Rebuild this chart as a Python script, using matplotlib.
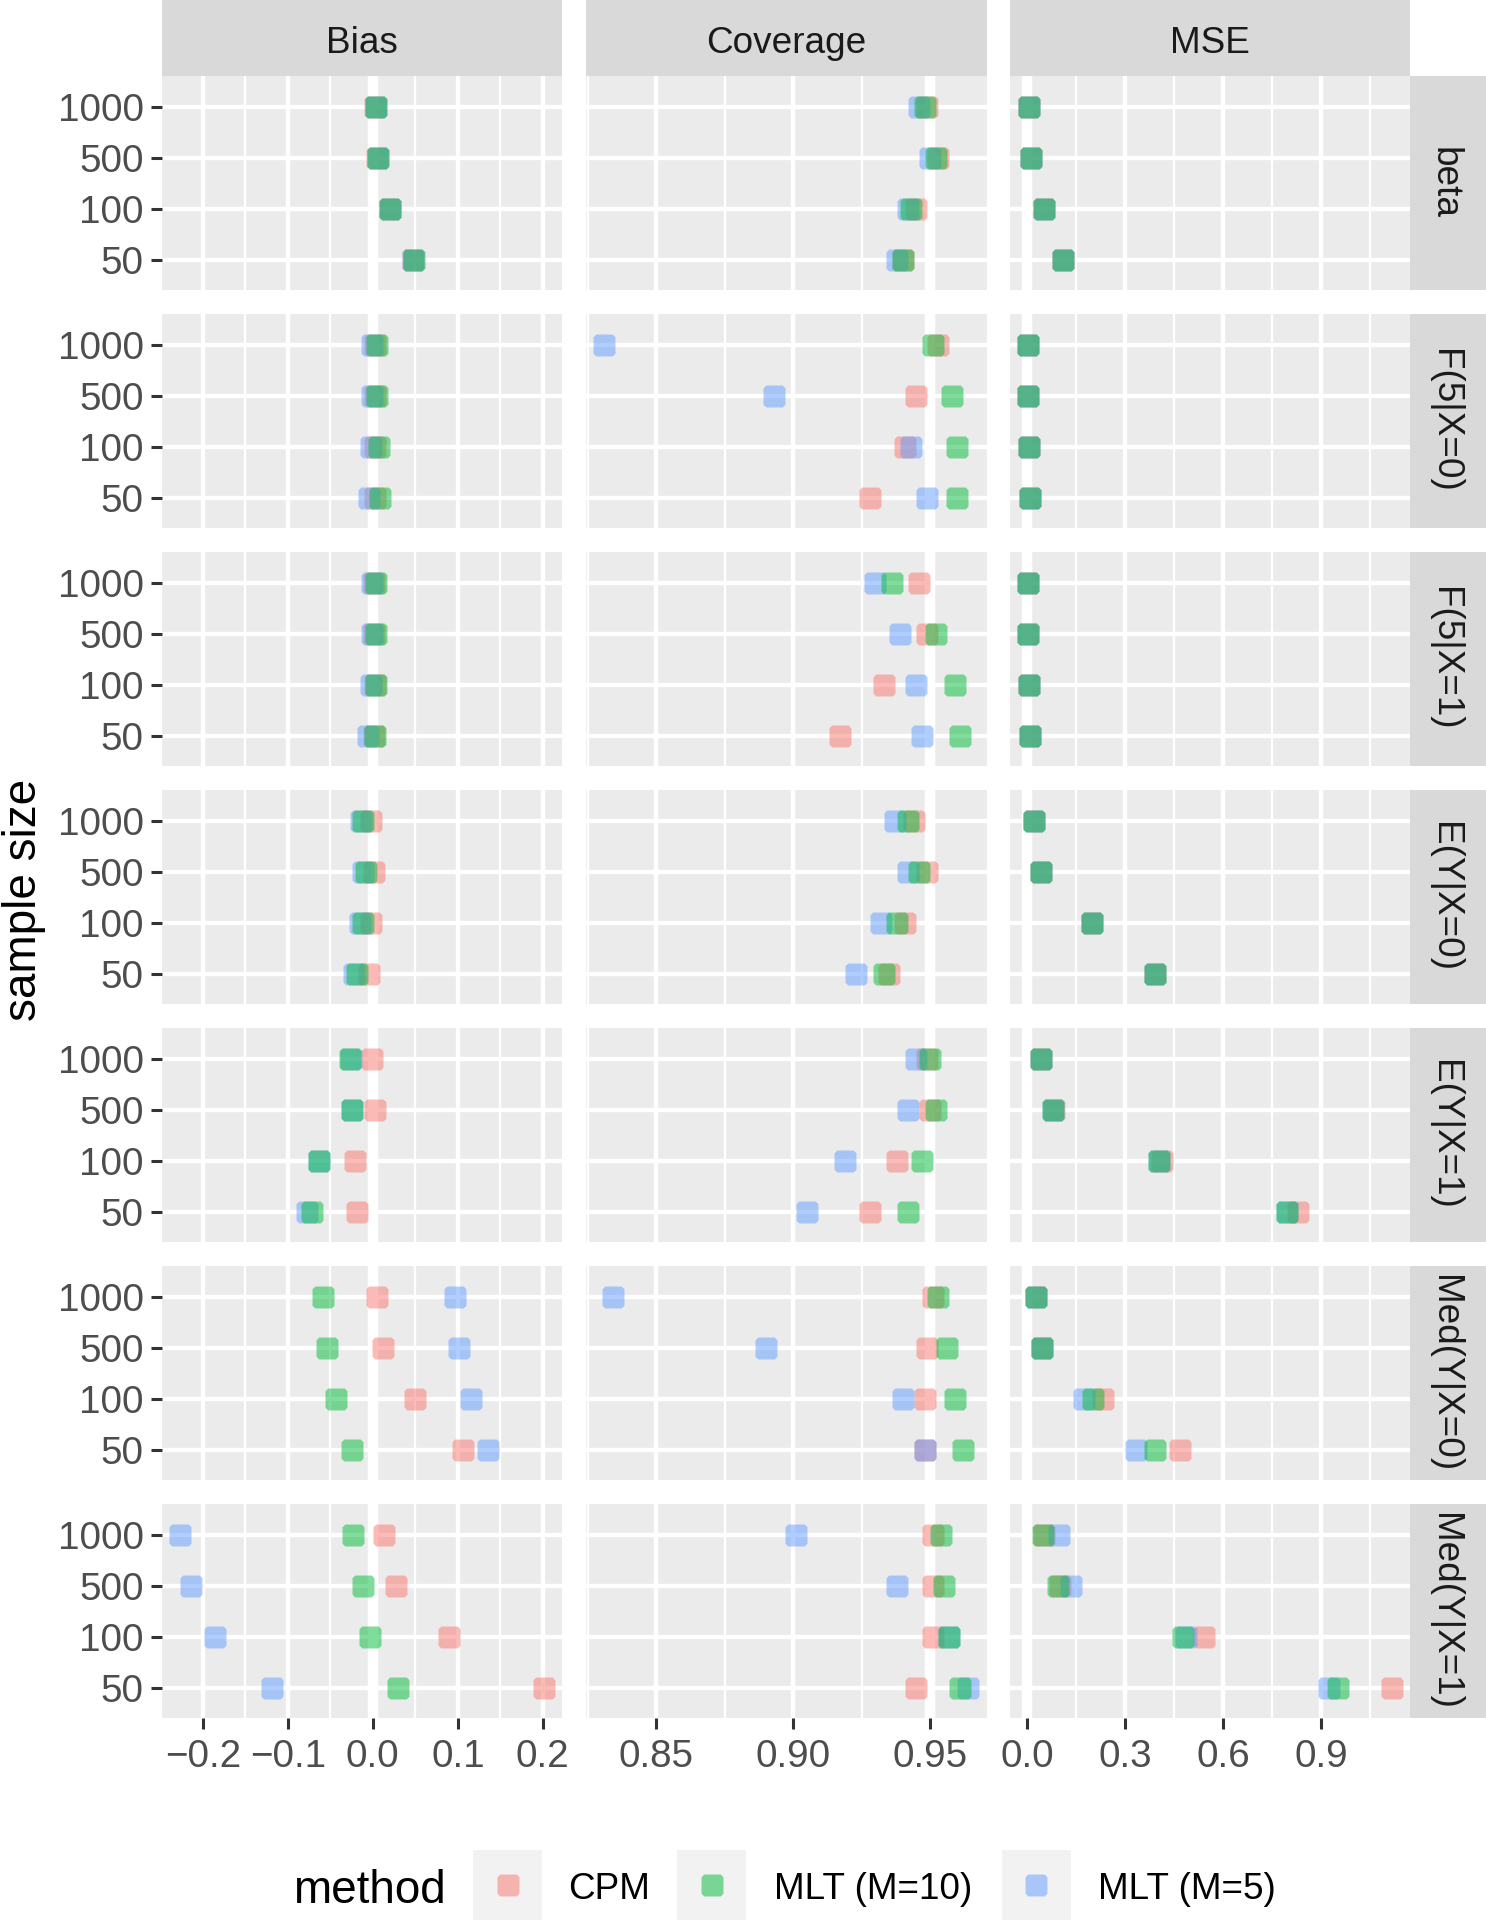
import numpy as np
import matplotlib
matplotlib.use("Agg")
import matplotlib.pyplot as plt
from matplotlib.path import Path

plt.rcParams['font.family'] = ['Liberation Sans', 'DejaVu Sans']

# facet labels
sample_sizes = ["1000", "500", "100", "50"]
estimands = ["beta", "F(5|X=0)", "F(5|X=1)", "E(Y|X=0)", "E(Y|X=1)", "Med(Y|X=0)", "Med(Y|X=1)"]
metrics = ["Bias", "Coverage", "MSE"]
methods = ["CPM", "MLT (M=10)", "MLT (M=5)"]
method_colors = ["#F8766D", "#00BA38", "#619CFF"]
reference_lines = [0.0, 0.95, 0.0]

# one row per estimand, values for n = 1000, 500, 100, 50
bias_cpm = [[0.003, 0.005, 0.020, 0.047],
            [0.002, 0.002, 0.003, 0.003],
            [0.001, 0.001, 0.002, 0.001],
            [-0.002, 0.001, -0.002, -0.004],
            [-0.001, 0.003, -0.021, -0.018],
            [0.005, 0.012, 0.050, 0.106],
            [0.013, 0.027, 0.090, 0.201]]
bias_mlt10 = [[0.004, 0.006, 0.020, 0.048],
              [0.005, 0.005, 0.007, 0.009],
              [0.004, 0.004, 0.004, 0.003],
              [-0.011, -0.008, -0.012, -0.019],
              [-0.027, -0.025, -0.063, -0.071],
              [-0.059, -0.054, -0.043, -0.024],
              [-0.023, -0.012, -0.003, 0.030]]
bias_mlt5 = [[0.004, 0.006, 0.020, 0.047],
             [-0.001, -0.001, -0.002, -0.004],
             [-0.001, -0.001, -0.002, -0.006],
             [-0.014, -0.011, -0.015, -0.022],
             [-0.026, -0.024, -0.063, -0.077],
             [0.097, 0.101, 0.116, 0.136],
             [-0.227, -0.214, -0.186, -0.119]]

cov_cpm = [[0.949, 0.953, 0.945, 0.940],
           [0.953, 0.945, 0.941, 0.928],
           [0.946, 0.949, 0.933, 0.917],
           [0.944, 0.949, 0.941, 0.935],
           [0.949, 0.950, 0.938, 0.928],
           [0.951, 0.949, 0.948, 0.948],
           [0.951, 0.951, 0.951, 0.945]]
cov_mlt10 = [[0.948, 0.952, 0.943, 0.940],
             [0.951, 0.958, 0.960, 0.960],
             [0.936, 0.952, 0.959, 0.961],
             [0.942, 0.946, 0.938, 0.933],
             [0.950, 0.952, 0.947, 0.942],
             [0.953, 0.956, 0.959, 0.962],
             [0.954, 0.955, 0.957, 0.961]]
cov_mlt5 = [[0.946, 0.950, 0.942, 0.938],
            [0.831, 0.893, 0.943, 0.949],
            [0.930, 0.939, 0.945, 0.947],
            [0.937, 0.942, 0.932, 0.923],
            [0.945, 0.942, 0.919, 0.905],
            [0.834, 0.890, 0.940, 0.948],
            [0.901, 0.938, 0.957, 0.964]]

mse_cpm = [[0.006, 0.010, 0.051, 0.110],
           [0.002, 0.003, 0.005, 0.009],
           [0.002, 0.002, 0.005, 0.007],
           [0.021, 0.040, 0.199, 0.392],
           [0.042, 0.080, 0.413, 0.829],
           [0.026, 0.045, 0.232, 0.467],
           [0.050, 0.100, 0.542, 1.116]]
mse_mlt10 = [[0.006, 0.010, 0.051, 0.110],
             [0.002, 0.003, 0.005, 0.009],
             [0.002, 0.002, 0.005, 0.007],
             [0.021, 0.040, 0.199, 0.392],
             [0.042, 0.079, 0.402, 0.796],
             [0.025, 0.045, 0.200, 0.392],
             [0.048, 0.094, 0.476, 0.951]]
mse_mlt5 = [[0.006, 0.010, 0.051, 0.110],
            [0.002, 0.003, 0.005, 0.009],
            [0.002, 0.002, 0.005, 0.007],
            [0.021, 0.040, 0.199, 0.392],
            [0.042, 0.079, 0.402, 0.796],
            [0.025, 0.045, 0.172, 0.333],
            [0.097, 0.133, 0.486, 0.922]]

# axis breaks per metric column
major_breaks = [[-0.2, -0.1, 0.0, 0.1, 0.2], [0.85, 0.90, 0.95], [0.0, 0.3, 0.6, 0.9]]
major_labels = [["\u22120.2", "\u22120.1", "0.0", "0.1", "0.2"], ["0.85", "0.90", "0.95"],
                ["0.0", "0.3", "0.6", "0.9"]]
minor_breaks = [[-0.15, -0.05, 0.05, 0.15], [0.825, 0.875, 0.925], [0.15, 0.45, 0.75, 1.05]]

W, H = 1486, 1920
PANEL_BG = "#EBEBEB"
STRIP_BG = "#D9D9D9"
KEY_BG = "#F2F2F2"
SMALL = 26.6
TICK = 27.8
BIG = 33


def px_axes(fig, x, y, w, h):
    """Add axes from a pixel box measured from the top-left corner."""
    return fig.add_axes([x / W, 1 - (y + h) / H, w / W, h / H])


def rounded_square(cut=0.25):
    """Square marker with clipped corners, close to ggplot's look."""
    c = cut
    verts = [(-1 + c, -1), (1 - c, -1), (1, -1 + c), (1, 1 - c),
             (1 - c, 1), (-1 + c, 1), (-1, 1 - c), (-1, -1 + c), (-1 + c, -1)]
    return Path(verts, closed=True)


def blank(ax, color):
    ax.set_facecolor(color)
    ax.set_xticks([])
    ax.set_yticks([])
    for s in ax.spines.values():
        s.set_visible(False)


def main():
    metric_data = [[bias_cpm, bias_mlt10, bias_mlt5],
                   [cov_cpm, cov_mlt10, cov_mlt5],
                   [mse_cpm, mse_mlt10, mse_mlt5]]
    draw_order = [0, 2, 1]  # CPM, MLT (M=5), then MLT (M=10) on top
    marker = rounded_square()
    ypos = np.arange(len(sample_sizes), 0, -1)

    fig = plt.figure(figsize=(W / 100, H / 100), dpi=100)

    col_x = [161.6, 586.3, 1009.9]
    col_w = 400.3
    row_top0, row_h, row_gap = 75.9, 214.5, 23.5
    strip_h = 75.9
    strip_x = col_x[2] + col_w
    strip_w = W - strip_x

    for j, metric in enumerate(metrics):
        allvals = np.concatenate([np.ravel(a) for a in metric_data[j]])
        lo, hi = allvals.min(), allvals.max()
        pad = 0.05 * (hi - lo)

        # column strip
        sax = px_axes(fig, col_x[j], 0, col_w, strip_h)
        blank(sax, STRIP_BG)
        sax.text(0.5, 1 - 52.6 / strip_h, metric, ha="center", va="baseline",
                 fontsize=SMALL, color="#1A1A1A", transform=sax.transAxes)

        for i, est in enumerate(estimands):
            top = row_top0 + i * (row_h + row_gap)
            ax = px_axes(fig, col_x[j], top, col_w, row_h)
            ax.set_facecolor(PANEL_BG)
            for s in ax.spines.values():
                s.set_visible(False)
            ax.set_xlim(lo - pad, hi + pad)
            ax.set_ylim(0.4, 4.6)
            ax.set_xticks(major_breaks[j])
            ax.set_xticks(minor_breaks[j], minor=True)
            ax.set_yticks(ypos)
            ax.set_axisbelow(True)
            ax.grid(which="major", color="white", linewidth=3.1)
            ax.grid(which="minor", axis="x", color="white", linewidth=1.65)
            ax.axvline(reference_lines[j], color="white", linewidth=7.5, zorder=1)

            ax.tick_params(which="both", length=0)
            if j == 0:
                ax.set_yticklabels(sample_sizes)
                ax.tick_params(axis="y", which="major", length=8, width=2.2, color="#333333",
                               labelsize=TICK, labelcolor="#4D4D4D", pad=5)
            else:
                ax.set_yticklabels([])
            if i == len(estimands) - 1:
                ax.set_xticklabels(major_labels[j])
                ax.tick_params(axis="x", which="major", length=8, width=2.2, color="#333333",
                               labelsize=TICK, labelcolor="#4D4D4D", pad=7)
            else:
                ax.set_xticklabels([])

            for k in draw_order:
                ax.plot(metric_data[j][k][i], ypos, linestyle="none", marker=marker,
                        markersize=15.8, markeredgewidth=0, color=method_colors[k],
                        alpha=0.5, zorder=2)

            # row strip on the right
            if j == len(metrics) - 1:
                rax = px_axes(fig, strip_x, top, strip_w, row_h)
                blank(rax, STRIP_BG)
                rax.text((1434.8 - strip_x) / strip_w, 0.5, est, rotation=-90,
                         rotation_mode="anchor", ha="center", va="baseline",
                         fontsize=SMALL, color="#1A1A1A", transform=rax.transAxes)

    fig.text(24.5 / W, 1 - 899.7 / H, "sample size", rotation=90, ha="center",
             va="center", fontsize=BIG, color="black")

    # legend drawn by hand: title, grey key boxes, labels
    fig.text(293 / W, 1 - 1902.7 / H, "method", ha="left", va="baseline",
             fontsize=BIG, color="black")
    key_x = [473.4, 677.0, 1001.6]
    text_x = [568.0, 773.6, 1097.6]
    for k, name in enumerate(methods):
        kax = px_axes(fig, key_x[k], 1850.3, 69, 70)
        blank(kax, KEY_BG)
        kax.set_xlim(0, 1)
        kax.set_ylim(0, 1)
        kax.plot([0.5], [0.5], linestyle="none", marker=marker, markersize=15.8,
                 markeredgewidth=0, color=method_colors[k], alpha=0.5)
        fig.text(text_x[k] / W, 1 - 1899.3 / H, name, ha="left", va="baseline",
                 fontsize=SMALL, color="black")

    fig.savefig("out.png", dpi=100)


if __name__ == "__main__":
    main()
